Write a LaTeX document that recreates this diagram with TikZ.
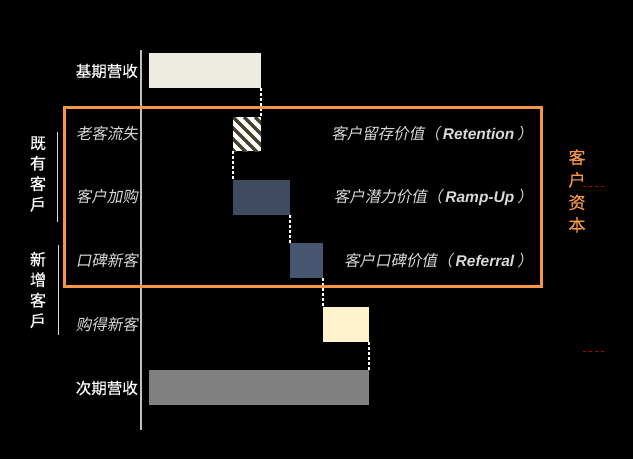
\documentclass[tikz,border=0pt]{standalone}
\usepackage{fontspec}
\setmainfont{Liberation Sans}
\newfontfamily\cjk[FakeBold=0.4]{Noto Sans CJK SC}
\newfontfamily\cjkit[FakeSlant=0.2]{Noto Sans CJK SC}
\definecolor{basefill}{HTML}{EEECE1}
\definecolor{nextfill}{HTML}{808080}
\definecolor{upfill}{HTML}{3F4B60}
\definecolor{reffill}{HTML}{475670}
\definecolor{acqfill}{HTML}{FFF2CC}
\definecolor{stripe}{HTML}{46402A}
\definecolor{caporange}{HTML}{F79646}
\definecolor{softgray}{HTML}{D9D9D9}
\definecolor{axisgray}{HTML}{BFBFBF}
\definecolor{darkred}{HTML}{C00000}

\begin{document}
\begin{tikzpicture}[
    x=1pt, y=-1pt,
    bar/.style={anchor=north west, inner sep=0pt, outer sep=0pt, minimum height=35pt},
    hatch/.style={bar, fill=white, path picture={
        \foreach \i in {-44,-33,...,33}
          \draw[stripe, line width=3.2pt] ([xshift=\i pt]path picture bounding box.north west) -- ++(50pt,-50pt);}},
    lbl/.style={anchor=east, inner sep=0pt, font=\cjk\fontsize{15.5}{18}\selectfont, text=white},
    ilbl/.style={anchor=east, inner sep=0pt, font=\cjkit\fontsize{15.5}{18}\selectfont, text=softgray},
    vlbl/.style={anchor=east, inner sep=0pt, font=\fontsize{15.5}{18}\selectfont, text=softgray},
    grp/.style={align=center, inner sep=0pt, font=\cjk\fontsize{16}{20.5}\selectfont, text=white},
    link/.style={draw=white, dash pattern=on 3pt off 2pt, line width=1.2pt},
    brace/.style={draw=softgray, line width=0.9pt},
    reddash/.style={draw=darkred, dash pattern=on 3pt off 3pt, line width=1pt}
]
\path[use as bounding box, fill=black] (0,0) rectangle (633,459);

% --- Axis ---
\draw[axisgray, line width=1.4pt] (141,50) -- (141,430);

% --- Bars ---
\node[bar, fill=basefill, minimum width=112pt] (base) at (149,53) {};
\node[hatch, minimum width=28pt, minimum height=34pt] (churn) at (233,117) {};
\node[bar, fill=upfill, minimum width=57pt] (upsell) at (233,180) {};
\node[bar, fill=reffill, minimum width=33pt] (refer) at (290,243) {};
\node[bar, fill=acqfill, minimum width=46pt] (acq) at (323,307) {};
\node[bar, fill=nextfill, minimum width=220pt] (next) at (149,370) {};

\draw[link] (base.south east) -- (churn.north east);
\draw[link] (churn.south west) -- (upsell.north west);
\draw[link] (upsell.south east) -- (refer.north west);
\draw[link] (refer.south east) -- (acq.north west);
\draw[link] (acq.south east) -- (next.north east);

% --- Row labels ---
\node[lbl] (lbase) at (138,71) {基期营收};
\node[ilbl] (lchurn) at (138,134) {老客流失};
\node[ilbl] (lup) at (138,197) {客户加购};
\node[ilbl] (lref) at (138,261) {口碑新客};
\node[ilbl] (lacq) at (138,325) {购得新客};
\node[lbl] (lnext) at (138,388) {次期营收};

% --- Customer capital ---
\node[draw=caporange, line width=2.5pt, anchor=north west, inner sep=0pt,
      minimum width=477pt, minimum height=179pt] (capital) at (63,106) {};
\node[vlbl] (vret) at (533,134) {{\cjkit 客户留存价值（}\hspace{3pt}{\bfseries\itshape Retention}\hspace{3pt}{\cjkit ）}};
\node[vlbl] (vramp) at (533,197) {{\cjkit 客户潜力价值（}\hspace{3pt}{\bfseries\itshape Ramp-Up}\hspace{3pt}{\cjkit ）}};
\node[vlbl] (vref) at (533,261) {{\cjkit 客户口碑价值（}\hspace{3pt}{\bfseries\itshape Referral}\hspace{3pt}{\cjkit ）}};
\node[grp, text=caporange, font=\cjk\fontsize{17}{22.5}\selectfont] (capname) at (577,191) {客\\户\\资\\本};

% --- Groups ---
\node[grp] (gold) at (38,174) {既\\有\\客\\戶};
\draw[brace] (57,132) -- (57,222);
\node[grp] (gnew) at (38,290) {新\\增\\客\\戶};
\draw[brace] (58,245) -- (58,335);

\draw[reddash] (583,186) -- (605,186);
\draw[reddash] (583,351) -- (605,351);
\end{tikzpicture}
\end{document}
